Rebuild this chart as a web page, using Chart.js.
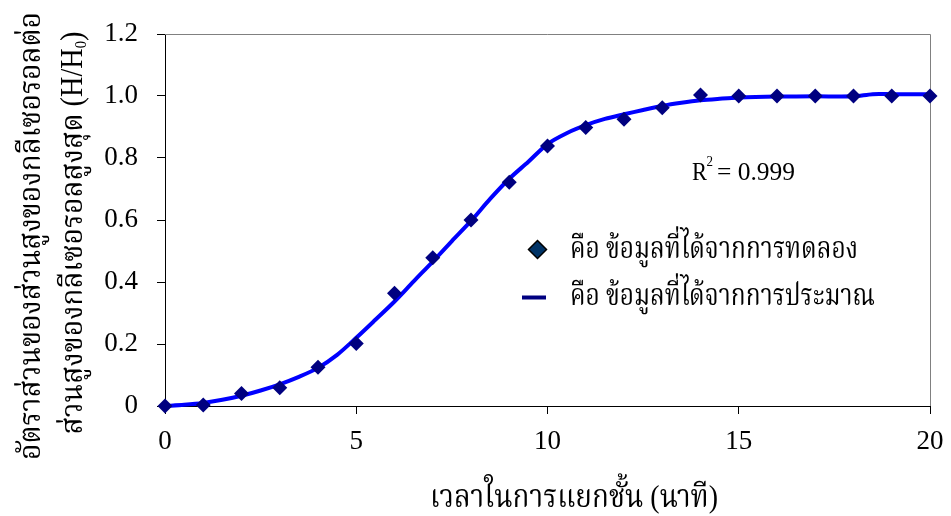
<!DOCTYPE html>
<html>
<head>
<meta charset="utf-8">
<script src="https://cdn.jsdelivr.net/npm/chart.js@4.4.1/dist/chart.umd.min.js"></script>
<style>
  html, body { margin: 0; padding: 0; background: #ffffff; }
  canvas { display: block; }
</style>
</head>
<body>
<canvas id="chart" width="951" height="516"></canvas>
<script>
// Separation time (minutes) of each measurement
const timeMin = [0, 1, 2, 3, 4, 5, 6, 7, 8, 9, 10, 11, 12, 13, 14, 15, 16, 17, 18, 19, 20];
// Measured glycerol layer height ratio H/H0
const measuredRatio = [0, 0.003, 0.04, 0.059, 0.125, 0.202, 0.364, 0.478, 0.600, 0.722, 0.839,
                       0.898, 0.925, 0.962, 1.003, 1.000, 1.000, 1.000, 1.000, 1.000, 1.000];
// Estimated (model) curve
const fitTime = [0, 0.5, 1, 1.5, 2, 2.5, 3, 3.5, 4, 4.5, 5, 5.5, 6, 6.5, 7, 7.5, 8, 8.5, 9, 9.5,
                 10, 10.5, 11, 11.5, 12, 12.5, 13, 13.5, 14, 14.5, 15, 16, 17, 18, 18.5, 19, 20];
const fitRatio = [0, 0.004, 0.010, 0.020, 0.033, 0.050, 0.070, 0.094, 0.123, 0.165, 0.220, 0.278,
                  0.337, 0.402, 0.466, 0.532, 0.597, 0.668, 0.733, 0.788, 0.845, 0.880, 0.906,
                  0.926, 0.941, 0.955, 0.968, 0.978, 0.986, 0.991, 0.995, 0.998, 0.999, 0.999,
                  1.006, 1.006, 1.006];
const xTicks = [0, 5, 10, 15, 20];
const yTicks = [0, 0.2, 0.4, 0.6, 0.8, 1.0, 1.2];

const xTitle = 'เวลาในการแยกชั้น (นาที)';
const yTitleLine1 = 'อัตราส่วนของส่วนสูงของกลีเซอรอลต่อ';
const yTitleLine2 = 'ส่วนสูงของกลีเซอรอลสูงสุด (H/H';
const legendLabels = ['คือ ข้อมูลที่ได้จากการทดลอง', 'คือ ข้อมูลที่ได้จากการประมาณ'];
const r2Value = '0.999';

const SERIF = "'Liberation Serif', 'Times New Roman', 'Noto Serif Thai', 'Noto Sans Thai', serif";
const MARKER = '#000080';
const CURVE = '#0000ff';

// Draw a string squeezed/stretched horizontally to a given width
function fitText(ctx, str, x, y, width, align) {
  const w = ctx.measureText(str).width;
  ctx.save();
  ctx.translate(x, y);
  ctx.scale(width / w, 1);
  ctx.textAlign = align;
  ctx.fillText(str, 0, 0);
  ctx.restore();
}

const annotations = {
  id: 'annotations',
  beforeDatasetsDraw(chart) {
    // top and right frame of the plot area
    const { ctx, chartArea: a } = chart;
    ctx.save();
    ctx.strokeStyle = '#808080';
    ctx.lineWidth = 1;
    ctx.beginPath();
    ctx.moveTo(a.left, a.top + 0.5);
    ctx.lineTo(a.right + 0.5, a.top + 0.5);
    ctx.lineTo(a.right + 0.5, a.bottom);
    ctx.stroke();
    ctx.restore();
  },
  afterDraw(chart) {
    const { ctx } = chart;
    ctx.save();
    ctx.fillStyle = '#000000';
    ctx.textBaseline = 'alphabetic';

    // x axis title
    ctx.font = '32px ' + SERIF;
    fitText(ctx, xTitle, 574, 507, 288, 'center');

    // y axis title, two rotated lines
    ctx.save();
    ctx.translate(40, 236);
    ctx.rotate(-Math.PI / 2);
    ctx.font = '31px ' + SERIF;
    fitText(ctx, yTitleLine1, 0, 0, 448, 'center');
    ctx.restore();

    ctx.save();
    ctx.translate(82, 233);
    ctx.rotate(-Math.PI / 2);
    const mainFont = '31px ' + SERIF, subFont = '16px ' + SERIF;
    ctx.font = mainFont; const w1 = ctx.measureText(yTitleLine2).width;
    const w3 = ctx.measureText(')').width;
    ctx.font = subFont; const w2 = ctx.measureText('0').width;
    const total = w1 + w2 + w3;
    const s = 403 / total;
    ctx.scale(s, 1);
    ctx.textAlign = 'left';
    let x0 = -total / 2;
    ctx.font = mainFont; ctx.fillText(yTitleLine2, x0, 0);
    ctx.font = subFont; ctx.fillText('0', x0 + w1, 4);
    ctx.font = mainFont; ctx.fillText(')', x0 + w1 + w2, 0);
    ctx.restore();

    // R squared
    ctx.textAlign = 'left';
    ctx.font = '26px ' + SERIF;
    fitText(ctx, 'R', 692, 180, 15, 'left');
    ctx.font = '15px ' + SERIF;
    fitText(ctx, '2', 706.5, 166, 6.5, 'left');
    ctx.font = '26px ' + SERIF;
    fitText(ctx, '= ' + r2Value, 717, 180, 78, 'left');

    // legend
    ctx.save();
    ctx.beginPath();
    ctx.moveTo(537.5, 240.5);
    ctx.lineTo(546.5, 249.5);
    ctx.lineTo(537.5, 258.5);
    ctx.lineTo(528.5, 249.5);
    ctx.closePath();
    ctx.fillStyle = '#003366';
    ctx.fill();
    ctx.strokeStyle = '#000000';
    ctx.lineWidth = 1.5;
    ctx.stroke();
    ctx.strokeStyle = MARKER;
    ctx.lineWidth = 4;
    ctx.beginPath();
    ctx.moveTo(522, 297.5);
    ctx.lineTo(546, 297.5);
    ctx.stroke();
    ctx.restore();

    ctx.font = '30px ' + SERIF;
    fitText(ctx, legendLabels[0], 570, 258, 288, 'left');
    fitText(ctx, legendLabels[1], 570, 305, 305, 'left');
    ctx.restore();
  }
};

new Chart(document.getElementById('chart'), {
  type: 'scatter',
  data: {
    datasets: [
      {
        label: legendLabels[0],
        data: timeMin.map((t, i) => ({ x: t, y: measuredRatio[i] })),
        pointStyle: 'rectRot',
        pointRadius: 7.5,
        pointBackgroundColor: MARKER,
        pointBorderColor: MARKER,
        pointBorderWidth: 0,
        showLine: false,
        clip: false
      },
      {
        label: legendLabels[1],
        data: fitTime.map((t, i) => ({ x: t, y: fitRatio[i] })),
        showLine: true,
        borderColor: CURVE,
        borderWidth: 4,
        pointRadius: 0,
        tension: 0.3,
        clip: false
      }
    ]
  },
  options: {
    responsive: false,
    animation: false,
    devicePixelRatio: 1,
    layout: { padding: { left: 0, right: 21, top: 34, bottom: 0 } },
    plugins: { legend: { display: false }, tooltip: { enabled: false } },
    scales: {
      x: {
        type: 'linear', min: 0, max: 20,
        afterFit: s => { s.height = 110; s.paddingRight = 0; s.paddingLeft = 0; },
        afterBuildTicks: s => { s.ticks = xTicks.map(v => ({ value: v })); },
        ticks: {
          color: '#000000', padding: 12, maxRotation: 0,
          font: { family: SERIF, size: 27 },
          callback: v => String(v)
        },
        grid: { display: true, drawOnChartArea: false, drawTicks: true, tickLength: 8, tickColor: '#000000' },
        border: { display: true, color: '#000000', width: 1 }
      },
      y: {
        type: 'linear', min: 0, max: 1.2,
        afterFit: s => { s.width = 165; s.paddingTop = 0; s.paddingBottom = 0; },
        afterBuildTicks: s => { s.ticks = yTicks.map(v => ({ value: v })); },
        ticks: {
          color: '#000000', padding: 19,
          font: { family: SERIF, size: 27 },
          callback: v => (v === 0 ? '0' : v.toFixed(1))
        },
        grid: { display: true, drawOnChartArea: false, drawTicks: true, tickLength: 8, tickColor: '#000000' },
        border: { display: true, color: '#000000', width: 1 }
      }
    }
  },
  plugins: [annotations]
});
</script>
</body>
</html>
